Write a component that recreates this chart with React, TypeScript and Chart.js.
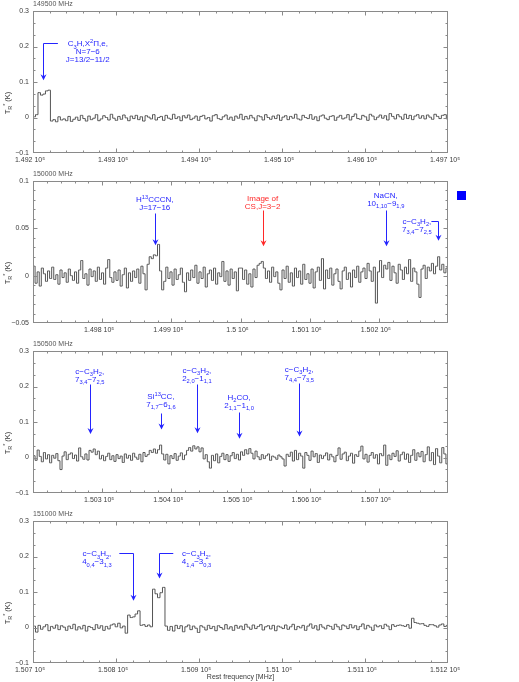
import React, { useEffect, useRef } from 'react';
import { Chart, registerables } from 'chart.js';

Chart.register(...registerables);

// ---------- data ----------
const CHANNEL_MHZ = 3;

const panel1Title = '149500 MHz';
const panel1Range = [149200, 149700];
const panel1Values = [
  2, 8, 70, 63, 66, 75, 77, -10, -6, -12, 2, -7, -4, -9, 3, -11, -5, 1, -8, 6,
  -3, -10, 4, -6, -2, 8, -9, -4, 5, 0, -7, 9, -2, -8, 3, -5, 7, -1, -9, 4,
  -3, 6, -6, 2, -10, 5, 1, -4, 8, -7, 0, 3, -8, 6, -2, -5, 9, -3, 2, -9,
  5, -1, 7, -6, -2, 4, -8, 3, 6, -4, 0, -10, 5, 8, -3, -6, 2, 7, -5, 1,
  -8, 4, -2, 9, -6, 3, -4, 6, -1, -9, 5, 2, -7, 8, 0, -5, 4, -3, 7, -8,
  1, 5, -6, 3, -2, 9, -4, -7, 6, 0, -3, 8, -5, 2, -9, 4, 7, -2, -6, 3,
  5, -8, 1, 6, -4, -1, 8, -7, 3, 10, -3, -5, 6, 2, -8, 9, 4, -6, 1, 7,
  -2, 5, -7, 11, 3, -4, 8, 2, -5, 9, -3, 6, -6, 4, 8, -2, 5, -4, 7, 1,
  -5, 9, 3, -3, 6, 8, -4, 2, 7, -1, 5, 3, -6, 8, 4, -2, 6, 1, 9, 3,
];

const panel2Title = '150000 MHz';
const panel2Range = [149700, 150300];
const panel2Values = [
  10, -8, 4, -11, 8, 2, -6, 5, -3, 9, -4, 1, -9, 6, -2, 3, -7, 7, 0, -5,
  4, -8, 6, 16, -3, 2, -10, 7, -1, 5, -6, 9, -4, 3, -9, 8, 17, -2, -7, 4,
  -5, 6, -11, 1, 8, -13, 3, -6, 5, -2, 7, -8, 10, 2, -15, 12, 20, 18, 22, 21,
  33, 5, -15, -6, 9, -3, 4, -10, 7, -4, 1, 8, -7, -17, 3, -5, 6, -2, 11, -8,
  4, -3, 9, -12, 2, 6, -5, 8, -9, 3, -1, 15, -6, 5, -10, 7, -3, 4, -16, 8,
  8, -4, 6, -9, 2, -12, 7, -2, 11, 13, 15, 8, -3, 5, -7, 9, -1, 4, -8, -15,
  6, -3, 10, -7, 3, -11, 8, -2, 5, -9, 12, -4, 2, -8, 7, -13, 4, 9, -5, 18,
  -14, 6, -3, 8, -10, 2, 7, -6, -14, 5, 9, -4, 3, -12, 6, -2, 10, -7, 4, 8,
  -3, 13, 5, -6, 9, -29, 4, 16, -2, 11, 7, 14, -5, 10, 3, -8, 12, 6, -4, 9,
  2, 17, -6, 8, 4, -9, -23, 7, 11, -3, 9, 5, 13, 2, 10, 20, 6, 12, 3, 8,
];

const panel3Title = '150500 MHz';
const panel3Range = [150200, 150800];
const panel3Values = [
  5, -8, 21, 3, -12, 14, -4, 8, -15, 6, -2, 11, -9, -34, 4, 16, -6, 9, 13, -3,
  7, -10, 27, 2, -5, 10, -7, 20, 15, 24, 8, 18, -4, 6, -9, 3, 12, -6, 5, -11,
  8, -3, 4, -14, 10, -2, 6, -8, 12, 1, -5, 9, -12, 14, 3, 8, 20, 14, 24, 12,
  22, 35, 10, -7, 9, -18, 5, -3, 11, -8, 4, 13, -6, 7, 20, 28, 18, 33, 24, 30,
  16, 27, -4, 8, -12, -30, 6, -9, 10, -15, 3, 12, -6, 8, -11, 5, 14, -3, 9, -7,
  16, 6, 22, 10, 25, 12, -4, 18, 2, -6, 8, -3, 5, 10, -8, 4, 1, -5, 7, 2,
  -4, -24, 9, 3, 15, -10, 20, -6, 12, 4, -30, 14, 6, -8, 18, 2, 11, -14, 7, -3,
  5, 13, -7, 9, 2, -12, 6, 27, -5, 10, 15, -9, 4, 12, -16, 8, 3, 18, 32, -4,
  9, -13, 6, 14, -2, 8, -18, 11, 5, 35, -22, 7, -6, 12, 3, 19, -10, 8, 15, -5,
  10, -14, 6, 22, -8, 13, 2, 17, -12, 8, 30, -9, 14, -20, 25, 4, -15, 28, 10, -18,
];

const panel4Title = '151000 MHz';
const panel4Range = [150700, 151200];
const panel4Values = [
  4, -13, 6, -5, 2, 8, -9, 3, -2, 7, -6, 5, 1, -8, 4, -3, 9, -7, 2, -4,
  6, -10, 3, 0, -6, 8, -2, 5, -8, 3, -4, 7, 10, 2, 12, -1, 4, -16, 35, 28,
  30, 38, 47, 6, 8, 3, 7, 2, 108, 95, 84, 98, 113, 4, -8, 3, -10, 6, -3, 5,
  -12, 2, 7, -6, 4, -2, -14, 5, 1, -7, 6, -3, 3, -9, 5, 0, -5, 8, -4, 2,
  -8, 6, -2, 4, -6, 9, 1, -5, 7, -3, 3, 8, -7, 2, 5, -4, 6, -9, 4, 1,
  -3, 7, -5, 2, 9, -6, 3, -1, 6, -8, 4, 10, -2, 5, -7, 8, 1, -4, 6, 3,
  -5, 9, 2, -6, 7, 4, -3, 8, -1, 5, -6, 3, 10, -4, 6, 1, -8, 7, 2, 5,
  -3, 9, 4, -6, 8, 3, 6, 7, 5, 3, 8, -2, 26, 14, 12, 10, 11, 6, 3, 8,
  8, 5, 1, 7, 10, 3, 6, -2, 5, 8, 2, 6, 4, 7, 1, 9, 3, 5, 6, 2,
];

// y ranges (K)
const yRangeWide = [-0.1, 0.3];
const yRangeNarrow = [-0.05, 0.1];

// line identifications: arrow frequency (MHz), arrow tip / top (K), label
type Ann = {
  freq: number; tip: number; top: number; lines: string[];
  textFreq: number; textY: number; red?: boolean; leaderFreq?: number;
};
const panel1Lines: Ann[] = [
  { freq: 149212, tip: 0.105, top: 0.209, leaderFreq: 149230, textFreq: 149266, textY: 0.209, lines: ['C_3H,X^2Π,e,', 'N=7−6', 'J=13/2−11/2'] },
];
const panel2Lines: Ann[] = [
  { freq: 149876, tip: 0.032, top: 0.066, textFreq: 149876, textY: 0.081, lines: ['H^{13}CCCN,', 'J=17−16'] },
  { freq: 150032, tip: 0.031, top: 0.069, textFreq: 150032, textY: 0.082, red: true, lines: ['Image of', 'CS,J=3−2'] },
  { freq: 150210, tip: 0.031, top: 0.069, textFreq: 150210, textY: 0.085, lines: ['NaCN,', '10_{1,10}−9_{1,9}'] },
  { freq: 150285, tip: 0.037, top: 0.058, leaderFreq: 150276, textFreq: 150255, textY: 0.058, lines: ['c−C_3H_2,', '7_{3,4}−7_{2,5}'] },
];
const panel3Lines: Ann[] = [
  { freq: 150282, tip: 0.066, top: 0.207, textFreq: 150282, textY: 0.244, lines: ['c−C_3H_2,', '7_{3,4}−7_{2,5}'] },
  { freq: 150385, tip: 0.079, top: 0.126, textFreq: 150385, textY: 0.173, lines: ['Si^{13}CC,', '7_{1,7}−6_{1,6}'] },
  { freq: 150437, tip: 0.068, top: 0.207, textFreq: 150437, textY: 0.246, lines: ['c−C_3H_2,', '2_{2,0}−1_{1,1}'] },
  { freq: 150498, tip: 0.053, top: 0.129, textFreq: 150498, textY: 0.170, lines: ['H_2CO,', '2_{1,1}−1_{1,0}'] },
  { freq: 150585, tip: 0.059, top: 0.209, textFreq: 150585, textY: 0.249, lines: ['c−C_3H_2,', '7_{4,4}−7_{3,5}'] },
];
const panel4Lines: Ann[] = [
  { freq: 150821, tip: 0.0755, top: 0.209, leaderFreq: 150804, textFreq: 150777, textY: 0.209, lines: ['c−C_3H_2,', '4_{0,4}−3_{1,3}'] },
  { freq: 150852, tip: 0.138, top: 0.209, leaderFreq: 150869, textFreq: 150897, textY: 0.209, lines: ['c−C_3H_2,', '4_{1,4}−3_{0,3}'] },
];

const yAxisLabel = 'T_R^* (K)';
const xAxisLabel = 'Rest frequency [MHz]';

// ---------- styles ----------
const FONT = "'Liberation Sans', 'DejaVu Sans', Arial, sans-serif";
const FRAME = '#8a8a8a';
const TEXT = '#3c3c3c';
const BLUE = '#2424ff';
const RED = '#ff2828';
const LINE = '#555555';

type PanelCfg = {
  title: string; range: number[]; values: number[]; yRange: number[];
  yStep: number; yMinor: number; edgeLabels: boolean; ann: Ann[];
  marker?: boolean; xTitle?: boolean;
};

const PANELS: PanelCfg[] = [
  { title: panel1Title, range: panel1Range, values: panel1Values, yRange: yRangeWide, yStep: 0.1, yMinor: 0.1 / 3, edgeLabels: true, ann: panel1Lines },
  { title: panel2Title, range: panel2Range, values: panel2Values, yRange: yRangeNarrow, yStep: 0.05, yMinor: 0.01, edgeLabels: false, ann: panel2Lines, marker: true },
  { title: panel3Title, range: panel3Range, values: panel3Values, yRange: yRangeWide, yStep: 0.1, yMinor: 0.1 / 3, edgeLabels: false, ann: panel3Lines },
  { title: panel4Title, range: panel4Range, values: panel4Values, yRange: yRangeWide, yStep: 0.1, yMinor: 0.1 / 3, edgeLabels: true, ann: panel4Lines, xTitle: true },
];

// ---------- rich text (sub/superscripts) ----------
type Seg = { t: string; k: number; w?: number };
function parseRich(s: string): Seg[] {
  const segs: Seg[] = [];
  let i = 0;
  while (i < s.length) {
    const c = s[i];
    if ((c === '_' || c === '^') && i + 1 < s.length) {
      const k = c === '_' ? 1 : -1;
      let t: string;
      if (s[i + 1] === '{') {
        const j = s.indexOf('}', i + 2);
        t = s.slice(i + 2, j);
        i = j + 1;
      } else {
        t = s[i + 1];
        i += 2;
      }
      segs.push({ t, k });
    } else {
      let j = i;
      while (j < s.length && s[j] !== '_' && s[j] !== '^') j++;
      segs.push({ t: s.slice(i, j), k: 0 });
      i = j;
    }
  }
  return segs;
}
function drawRich(ctx: CanvasRenderingContext2D, s: string, x: number, y: number, size: number, align: 'center' | 'left') {
  const segs = parseRich(s);
  let w = 0;
  for (const sg of segs) {
    ctx.font = `${sg.k ? size * 0.72 : size}px ${FONT}`;
    sg.w = ctx.measureText(sg.t).width;
    w += sg.w;
  }
  let cx = align === 'center' ? x - w / 2 : x;
  ctx.textBaseline = 'alphabetic';
  ctx.textAlign = 'left';
  const base = y + size * 0.36;
  for (const sg of segs) {
    ctx.font = `${sg.k ? size * 0.72 : size}px ${FONT}`;
    const dy = sg.k === 1 ? size * 0.3 : sg.k === -1 ? -size * 0.42 : 0;
    ctx.fillText(sg.t, cx, base + dy);
    cx += sg.w || 0;
  }
}

function fmtY(v: number) {
  const r = Math.round(v * 1000) / 1000;
  if (r === 0) return '0';
  return String(r).replace('-', '−');
}

function Panel({ cfg, top, height }: { cfg: PanelCfg; top: number; height: number }) {
  const ref = useRef<HTMLCanvasElement>(null);
  useEffect(() => {
    const canvas = ref.current!;
    const [xMin, xMax] = cfg.range;
    const [yMin, yMax] = cfg.yRange;
    const data = cfg.values.map((v, i) => ({ x: xMin + (i + 0.5) * CHANNEL_MHZ, y: v / 1000 }));

    const decor = {
      id: 'decor',
      afterDatasetsDraw(chart: any) {
        const ctx: CanvasRenderingContext2D = chart.ctx;
        const a = chart.chartArea;
        const xs = chart.scales.x;
        const ys = chart.scales.y;
        ctx.save();
        // frame
        ctx.strokeStyle = FRAME;
        ctx.lineWidth = 1;
        const L = Math.round(a.left) + 0.5, R = Math.round(a.right) - 0.5;
        const T = Math.round(a.top) + 0.5, B = Math.round(a.bottom) - 0.5;
        ctx.strokeRect(L, T, R - L, B - T);
        const clamp = (v: number, lo: number, hi: number) => Math.max(lo, Math.min(hi, v));
        // ticks (inward, all sides)
        ctx.beginPath();
        const xMinor = 20, xMajor = 100;
        const nx = Math.round((xMax - xMin) / xMinor);
        for (let k = 0; k <= nx; k++) {
          const v = xMin + k * xMinor;
          const major = Math.abs(v / xMajor - Math.round(v / xMajor)) < 1e-6;
          const len = major ? 4 : 2;
          const px = clamp(Math.round(xs.getPixelForValue(v)) + 0.5, L, R);
          ctx.moveTo(px, B); ctx.lineTo(px, B - len);
          ctx.moveTo(px, T); ctx.lineTo(px, T + len);
        }
        const ny = Math.round((yMax - yMin) / cfg.yMinor);
        for (let k = 0; k <= ny; k++) {
          const v = yMin + k * cfg.yMinor;
          const major = Math.abs(v / cfg.yStep - Math.round(v / cfg.yStep)) < 1e-4;
          const len = major ? 4 : 2;
          const py = clamp(Math.round(ys.getPixelForValue(v)) + 0.5, T, B);
          ctx.moveTo(L, py); ctx.lineTo(L + len, py);
          ctx.moveTo(R, py); ctx.lineTo(R - len, py);
        }
        ctx.stroke();

        // panel title
        ctx.fillStyle = '#555';
        ctx.font = `7px ${FONT}`;
        ctx.textAlign = 'left';
        ctx.textBaseline = 'middle';
        ctx.fillText(cfg.title, a.left, 4.5);

        // y axis label (rotated)
        ctx.save();
        ctx.translate(7, 103);
        ctx.rotate(-Math.PI / 2);
        ctx.fillStyle = TEXT;
        drawRich(ctx, yAxisLabel, 0, 0, 7.5, 'center');
        ctx.restore();

        // line identifications
        for (const an of cfg.ann) {
          const col = an.red ? RED : BLUE;
          ctx.strokeStyle = col;
          ctx.fillStyle = col;
          ctx.lineWidth = 1;
          const x = Math.round(xs.getPixelForValue(an.freq)) + 0.5;
          const yt = ys.getPixelForValue(an.tip);
          const ytop = Math.round(ys.getPixelForValue(an.top)) + 0.5;
          ctx.beginPath();
          if (an.leaderFreq !== undefined) {
            const lx = xs.getPixelForValue(an.leaderFreq);
            ctx.moveTo(lx, ytop);
            ctx.lineTo(x, ytop);
          } else {
            ctx.moveTo(x, ytop);
          }
          ctx.lineTo(x, yt - 3);
          ctx.stroke();
          ctx.beginPath();
          ctx.moveTo(x, yt);
          ctx.lineTo(x - 3, yt - 6);
          ctx.lineTo(x, yt - 4);
          ctx.lineTo(x + 3, yt - 6);
          ctx.closePath();
          ctx.fill();
          const tx = xs.getPixelForValue(an.textFreq);
          const ty = ys.getPixelForValue(an.textY);
          an.lines.forEach((ln, k) => drawRich(ctx, ln, tx, ty + k * 8, 8, 'center'));
        }

        // legend-like marker
        if (cfg.marker) {
          ctx.fillStyle = '#0000ff';
          ctx.fillRect(a.right + 9, a.top + 10, 9, 9);
        }
        ctx.restore();
      },
    };

    const chart = new Chart(canvas, {
      type: 'line',
      data: {
        datasets: [{
          data,
          borderColor: LINE,
          borderWidth: 1,
          pointRadius: 0,
          stepped: 'middle',
          fill: false,
        }],
      },
      options: {
        responsive: false,
        animation: false,
        events: [],
        layout: { padding: { left: 0, right: 71, top: 11, bottom: 0 } },
        plugins: { legend: { display: false }, tooltip: { enabled: false }, title: { display: false } },
        scales: {
          x: {
            type: 'linear',
            min: xMin,
            max: xMax,
            grid: { display: false, drawTicks: false },
            border: { display: false },
            ticks: {
              stepSize: 100,
              autoSkip: false,
              maxRotation: 0,
              minRotation: 0,
              padding: 3,
              labelOffset: -3,
              color: TEXT,
              font: { size: 7, family: FONT },
              callback: (v: any) => {
                const n = Number(v);
                if (!cfg.edgeLabels && (Math.abs(n - xMin) < 1e-6 || Math.abs(n - xMax) < 1e-6)) return '';
                return parseFloat((n / 1e5).toFixed(4)).toString() + ' 10⁵';
              },
            },
            title: {
              display: !!cfg.xTitle,
              text: xAxisLabel,
              color: TEXT,
              font: { size: 7, family: FONT },
              padding: { top: 0, bottom: 1 },
            },
            afterFit: (s: any) => { s.height = height - 153; },
          },
          y: {
            type: 'linear',
            min: yMin,
            max: yMax,
            grid: { display: false, drawTicks: false },
            border: { display: false },
            ticks: {
              stepSize: cfg.yStep,
              padding: 4,
              color: TEXT,
              font: { size: 7, family: FONT },
              callback: (v: any) => fmtY(Number(v)),
            },
            afterFit: (s: any) => { s.width = 33; },
          },
        },
      },
      plugins: [decor],
    } as any);
    return () => chart.destroy();
  }, [cfg, height]);
  return (
    <canvas
      ref={ref}
      width={519}
      height={height}
      style={{ position: 'absolute', left: 0, top, width: 519, height, display: 'block' }}
    />
  );
}

export default function App() {
  return (
    <div style={{ position: 'absolute', left: 0, top: 0, width: 519, height: 682, background: '#fff' }}>
      {PANELS.map((p, k) => (
        <Panel key={k} cfg={p} top={k * 170} height={k === 3 ? 172 : 170} />
      ))}
    </div>
  );
}
